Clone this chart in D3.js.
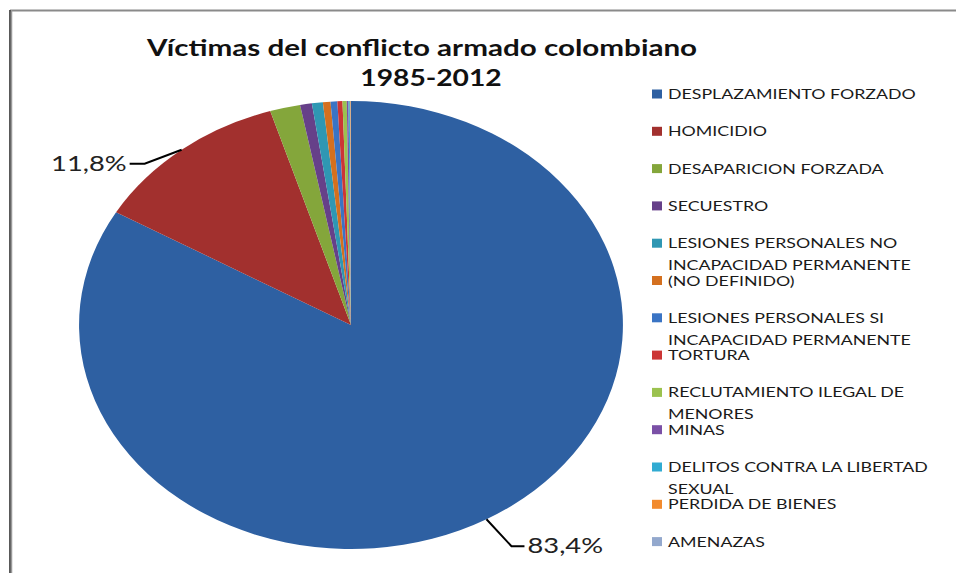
<!DOCTYPE html>
<html><head><meta charset="utf-8">
<script src="https://cdn.jsdelivr.net/npm/d3@7/dist/d3.min.js"></script>
<style>html,body{margin:0;padding:0;background:#fff;}svg{display:block;}</style>
</head><body>
<script>
const title = ["Víctimas del conflicto armado colombiano", "1985-2012"];
const categories = [
  "DESPLAZAMIENTO FORZADO", "HOMICIDIO", "DESAPARICION FORZADA", "SECUESTRO",
  "LESIONES PERSONALES NO INCAPACIDAD PERMANENTE", "(NO DEFINIDO)",
  "LESIONES PERSONALES SI INCAPACIDAD PERMANENTE", "TORTURA",
  "RECLUTAMIENTO ILEGAL DE MENORES", "MINAS", "DELITOS CONTRA LA LIBERTAD SEXUAL",
  "PERDIDA DE BIENES", "AMENAZAS"
];
const legendLines = [
  ["DESPLAZAMIENTO FORZADO"], ["HOMICIDIO"], ["DESAPARICION FORZADA"], ["SECUESTRO"],
  ["LESIONES PERSONALES NO", "INCAPACIDAD PERMANENTE"], ["(NO DEFINIDO)"],
  ["LESIONES PERSONALES SI", "INCAPACIDAD PERMANENTE"], ["TORTURA"],
  ["RECLUTAMIENTO ILEGAL DE", "MENORES"], ["MINAS"], ["DELITOS CONTRA LA LIBERTAD", "SEXUAL"],
  ["PERDIDA DE BIENES"], ["AMENAZAS"]
];
const values = [83.4, 11.8, 1.8, 0.7, 0.65, 0.45, 0.4, 0.3, 0.25, 0.1, 0.08, 0.05, 0.02];
const shownLabels = ["83,4%", "11,8%"];
const colors = ["#2E60A2", "#A2302E", "#84A63B", "#664089", "#2F97B3", "#D4701F",
  "#3A74C4", "#CC3535", "#9BC24F", "#7A50A6", "#31ABD2", "#F28B2E", "#93A8CD"];

const W = 956, H = 573, SX = 1.214;
const svg = d3.select("body").append("svg").attr("width", W).attr("height", H);

// frame
svg.append("line").attr("x1", 10).attr("x2", W).attr("y1", 10.5).attr("y2", 10.5)
  .attr("stroke", "#8a8a8a").attr("stroke-width", 2);
svg.append("line").attr("x1", 10).attr("x2", 10).attr("y1", 10).attr("y2", H)
  .attr("stroke", "#222").attr("stroke-width", 1.5);
svg.append("line").attr("x1", 11.5).attr("x2", 11.5).attr("y1", 10).attr("y2", H)
  .attr("stroke", "#999").attr("stroke-width", 1.5);

const FONT = "Lato, 'Open Sans', 'DejaVu Sans', sans-serif";

function stretchedText(parent, str, x, y, opts) {
  const g = parent.append("g").attr("transform", `translate(${x},${y}) scale(${opts.sx || SX},1)`);
  return g.append("text").attr("x", 0).attr("y", 0)
    .attr("text-anchor", opts.anchor || "start")
    .attr("font-family", FONT).attr("font-size", opts.size)
    .attr("font-weight", opts.weight || "normal")
    .attr("fill", opts.fill || "#1a1a1a").text(str);
}

// title
stretchedText(svg, title[0], 422, 56, {anchor: "middle", size: 23.5, weight: "bold", sx: 1.26, fill: "#111"});
stretchedText(svg, title[1], 431, 86, {anchor: "middle", size: 23.5, weight: "bold", sx: 1.2, fill: "#111"});

// pie
const cx = 351, cy = 325, R = 224;
const pie = d3.pie().sort(null).value(d => d)(values);
const arc = d3.arc().innerRadius(0).outerRadius(R);
const pg = svg.append("g").attr("transform", `translate(${cx},${cy}) scale(${SX},1)`);
pg.selectAll("path").data(pie).join("path")
  .attr("d", arc).attr("fill", (d, i) => colors[i]);

// data labels with leader lines
const labelCfg = [
  {dx: 25, dy: 27, hx: 13, anchor: "start"},
  {dx: -37, dy: 14, hx: -15, anchor: "end"}
];
shownLabels.forEach((lab, i) => {
  const d = pie[i];
  const a = (d.startAngle + d.endAngle) / 2;
  const ex = cx + Math.sin(a) * R * SX, ey = cy - Math.cos(a) * R;
  const c = labelCfg[i];
  const bx = ex + c.dx, by = ey + c.dy, tx = bx + c.hx;
  svg.append("polyline").attr("points", `${ex},${ey} ${bx},${by} ${tx},${by}`)
    .attr("fill", "none").attr("stroke", "#000").attr("stroke-width", 2);
  stretchedText(svg, lab, tx + (c.anchor === "start" ? 3 : -3), by + 7,
    {anchor: c.anchor, size: 21, fill: "#222", sx: 1.3});
});

// legend
const lx = 652, ly0 = 94, step = 37.3;
legendLines.forEach((lines, i) => {
  const y = ly0 + i * step;
  svg.append("rect").attr("x", lx).attr("y", y - 4.5).attr("width", 10).attr("height", 9)
    .attr("fill", colors[i]);
  lines.forEach((ln, j) => {
    stretchedText(svg, ln, lx + 16, y + 5 + j * 22, {size: 14, fill: "#1a1a1a", sx: 1.27});
  });
});
</script>
</body></html>
